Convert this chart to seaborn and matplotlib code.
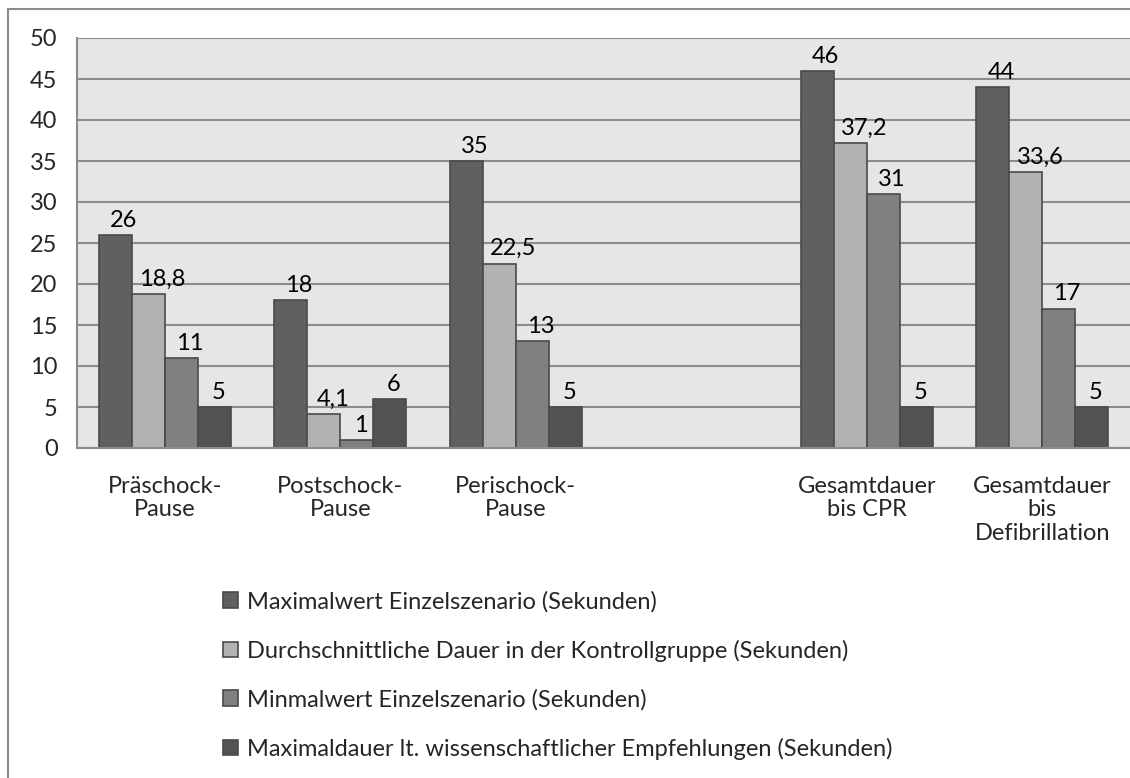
import matplotlib
matplotlib.use("Agg")
import matplotlib.pyplot as plt
import seaborn as sns
import pandas as pd
import numpy as np
from matplotlib.patches import Rectangle

categories = ["Präschock-\nPause", "Postschock-\nPause", "Perischock-\nPause", " ",
              "Gesamtdauer\nbis CPR", "Gesamtdauer\nbis\nDefibrillation"]
series = ["Maximalwert Einzelszenario (Sekunden)",
          "Durchschnittliche Dauer in der Kontrollgruppe (Sekunden)",
          "Minmalwert Einzelszenario (Sekunden)",
          "Maximaldauer lt. wissenschaftlicher Empfehlungen (Sekunden)"]
max_einzel = [26, 18, 35, np.nan, 46, 44]
durchschnitt = [18.8, 4.1, 22.5, np.nan, 37.2, 33.6]
min_einzel = [11, 1, 13, np.nan, 31, 17]
max_empf = [5, 6, 5, np.nan, 5, 5]
y_ticks = [0, 5, 10, 15, 20, 25, 30, 35, 40, 45, 50]
colors = ["#606060", "#B2B2B2", "#808080", "#525252"]

rows = []
for s, vals in zip(series, [max_einzel, durchschnitt, min_einzel, max_empf]):
    for c, v in zip(categories, vals):
        rows.append({"Kategorie": c, "Serie": s, "Wert": v})
df = pd.DataFrame(rows)

sns.set_theme(style="white")
plt.rcParams["font.family"] = ["Lato", "DejaVu Sans"]
FS = 17

fig = plt.figure(figsize=(11.3, 7.78), dpi=100)
ax = fig.add_axes([77/1130, 1-448/778, 1-77/1130, (448-38)/778])
ax.set_facecolor("#E6E6E6")

sns.barplot(data=df, x="Kategorie", y="Wert", hue="Serie", order=categories,
            hue_order=series, palette=colors, width=0.75, gap=0,
            edgecolor="#4A4A4A", linewidth=1.2, ax=ax, errorbar=None, saturation=1)

anns = []
for cont in ax.containers:
    labels = []
    for b in cont:
        h = b.get_height()
        if np.isnan(h):
            labels.append("")
        else:
            labels.append(("%g" % h).replace(".", ","))
    anns += ax.bar_label(cont, labels=labels, padding=3, fontsize=FS, color="black")

ax.set_ylim(0, 50)
ax.set_xlim(-0.5, len(categories) - 0.5)
ax.set_yticks(y_ticks)
ax.set_yticklabels([str(t) for t in y_ticks], fontsize=FS)
ax.yaxis.grid(True, color="#8C8C8C", linewidth=1.5)
ax.set_axisbelow(True)
ax.set_xticks(np.arange(len(categories) - 1) + 0.5)
ax.set_xticklabels([])
ax.set_xticks(np.arange(len(categories)), categories, minor=True)
ax.tick_params(axis="x", which="minor", length=0, labelsize=FS, pad=20)
ax.tick_params(axis="x", which="major", length=8, width=1.2, color="#8C8C8C", direction="out")
ax.tick_params(axis="y", length=8, width=1.2, color="#8C8C8C", direction="out", pad=6)
for lab in ax.get_xticklabels(minor=True):
    lab.set_linespacing(1.15)
ax.set_xlabel("")
ax.set_ylabel("")
for side in ["top", "right"]:
    ax.spines[side].set_visible(False)
for side in ["left", "bottom"]:
    ax.spines[side].set_color("#8C8C8C")
    ax.spines[side].set_linewidth(1.5)

handles, labels = ax.get_legend_handles_labels()
ax.get_legend().remove()
fig.legend(handles, labels, loc="upper left", bbox_to_anchor=(223/1130, 1-591/778),
           frameon=False, fontsize=FS, handlelength=0.65, handleheight=0.65,
           handletextpad=0.35, labelspacing=1.15, borderpad=0, borderaxespad=0)

fig.patches.append(Rectangle((8/1130, -0.1), 1.2, 1-9/778+0.1, transform=fig.transFigure,
                             fill=False, edgecolor="#8C8C8C", linewidth=1.5, zorder=-1))

# Excel-like label placement: labels sit slightly right of the bar centre
fig.canvas.draw()
renderer = fig.canvas.get_renderer()
for a in anns:
    if not a.get_text():
        continue
    w_px = a.get_window_extent(renderer).width
    dx_pt = 0.3 * w_px * 72 / fig.dpi
    x0, y0 = a.xyann
    a.xyann = (x0 + dx_pt, y0)

fig.savefig("out.png", dpi=100)
